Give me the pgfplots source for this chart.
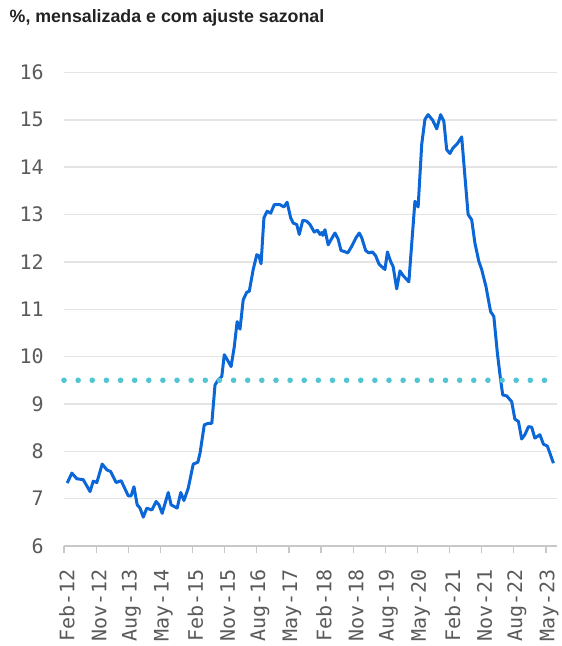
\documentclass[border=0pt]{standalone}
\usepackage{fontspec}
\setmainfont{Liberation Sans}
\newfontfamily\monofont{DejaVu Sans Mono}
\usepackage{pgfplots}
\pgfplotsset{compat=1.18}
\definecolor{lineblue}{HTML}{0B66D8}
\definecolor{dotteal}{HTML}{52C5D3}
\definecolor{gridgray}{HTML}{E4E4E4}
\definecolor{axisgray}{HTML}{C8C8C8}
\definecolor{labelgray}{HTML}{5A5A5A}
\definecolor{titleink}{HTML}{222222}

\begin{document}
\begin{tikzpicture}
\useasboundingbox (0,0) rectangle (280.5pt,-323pt);
\node[anchor=base west, inner sep=0pt, text=titleink,
  font=\bfseries\fontsize{8.9}{10}\selectfont] at (4.65pt,-11.35pt)
  {\%, mensalizada e com ajuste sazonal};
\begin{axis}[
  at={(32pt,-273pt)}, anchor=south west,
  scale only axis, width=246.5pt, height=236.75pt,
  xmin=0, xmax=138.1, ymin=6, ymax=16,
  clip=false,
  axis x line*=bottom, axis y line*=left,
  x axis line style={axisgray, line width=0.8pt},
  y axis line style={draw=none},
  xtick={0,9,...,135},
  xticklabels={Feb-12,Nov-12,Aug-13,May-14,Feb-15,Nov-15,Aug-16,May-17,Feb-18,Nov-18,Aug-19,May-20,Feb-21,Nov-21,Aug-22,May-23},
  ytick={6,7,...,16},
  ymajorgrids,
  grid style={gridgray, line width=0.75pt},
  xtick align=outside,
  major tick length=3.3pt,
  xtick style={axisgray, line width=0.6pt},
  ytick style={draw=none},
  /pgf/number format/assume math mode=true,
  ticklabel style={font=\monofont\fontsize{10}{11}\selectfont, text=labelgray},
  xticklabel style={rotate=90, anchor=east, inner sep=0pt, xshift=-8pt, yshift=-1.5pt},
  yticklabel style={inner sep=0pt, xshift=-10pt},
]
% taxa de desemprego, mensalizada e dessazonalizada
\addplot[lineblue, line width=1.5pt, line join=round] coordinates {
(0.9,7.33)(2.2,7.54)(3.6,7.42)(5.4,7.40)(7.3,7.15)(8.2,7.37)(9.2,7.34)
(10.7,7.73)(12.0,7.61)(13.1,7.57)(14.6,7.34)(16.0,7.38)(18.0,7.06)(18.8,7.06)
(19.6,7.25)(20.5,6.87)(21.3,6.80)(22.2,6.61)(23.2,6.80)(24.6,6.76)(25.8,6.94)
(26.6,6.87)(27.5,6.69)(29.2,7.13)(30.0,6.87)(31.7,6.80)(32.7,7.13)(33.6,6.96)
(34.8,7.22)(36.2,7.73)(37.5,7.77)(38.1,7.96)(39.3,8.56)(40.4,8.59)(41.4,8.59)
(42.3,9.40)(43.2,9.51)(44.2,9.58)(44.9,10.04)(46.0,9.90)(46.8,9.79)(47.7,10.21)
(48.5,10.74)(49.3,10.58)(50.2,11.20)(51.2,11.36)(51.9,11.38)(53.0,11.84)
(54.0,12.15)(54.6,12.13)(55.2,11.96)(56.0,12.93)(56.9,13.07)(57.9,13.03)
(58.9,13.21)(60.5,13.21)(61.6,13.16)(62.5,13.26)(63.5,12.93)(64.2,12.82)
(65.2,12.79)(65.9,12.58)(66.9,12.88)(68.0,12.86)(68.9,12.79)(70.1,12.63)
(71.0,12.67)(71.7,12.58)(72.2,12.62)(72.5,12.56)(73.1,12.68)(74.0,12.36)
(74.8,12.47)(75.9,12.61)(76.8,12.48)(77.6,12.24)(78.5,12.22)(79.5,12.19)
(80.6,12.33)(81.8,12.51)(82.7,12.61)(83.4,12.51)(84.5,12.24)(85.4,12.19)
(86.4,12.21)(87.3,12.13)(88.2,11.96)(89.0,11.90)(89.9,11.84)(90.6,12.21)
(91.5,12.01)(92.2,11.90)(93.2,11.43)(94.1,11.81)(95.0,11.71)(96.6,11.58)
(98.3,13.28)(99.2,13.16)(100.2,14.48)(101.1,15.01)(102.0,15.11)(103.3,14.99)
(104.4,14.81)(105.5,15.11)(106.4,14.97)(107.2,14.37)(108.1,14.29)(109.0,14.41)
(110.2,14.50)(111.4,14.64)(112.3,13.81)(113.2,13.00)(114.2,12.89)(115.1,12.40)
(116.2,12.01)(117.0,11.84)(118.2,11.48)(119.5,10.95)(120.4,10.85)(121.4,10.07)
(122.3,9.51)(122.9,9.19)(124.0,9.17)(125.4,9.05)(126.3,8.68)(127.3,8.63)
(128.2,8.26)(129.1,8.35)(130.1,8.52)(131.0,8.51)(131.9,8.28)(133.3,8.35)
(134.3,8.15)(135.4,8.11)(137.1,7.75)
};
% linha de referencia pontilhada
\addplot[dotteal, line width=2.8pt, line cap=round, dash pattern=on 0pt off 7.065pt]
  coordinates {(0,9.5) (134.6,9.5)};
\end{axis}
\end{tikzpicture}
\end{document}
